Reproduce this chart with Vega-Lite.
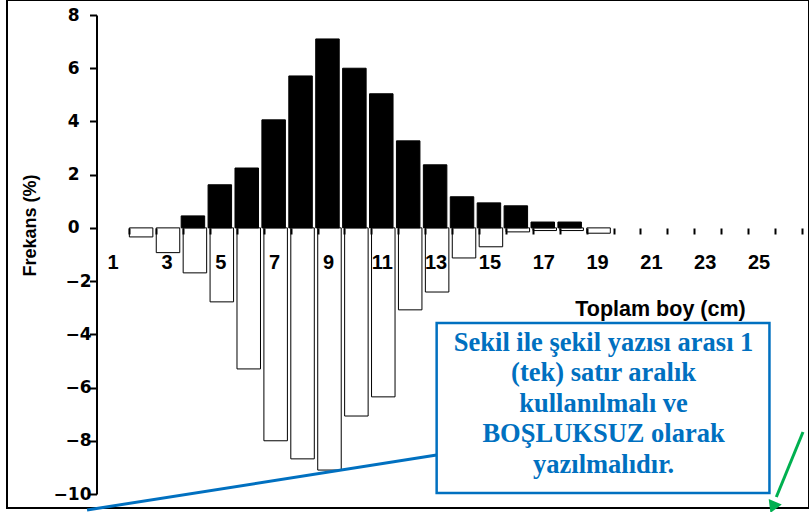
{
  "$schema": "https://vega.github.io/schema/vega-lite/v6.json",
  "width": 802,
  "height": 508,
  "autosize": {"type": "none"},
  "padding": {"left": 7, "top": 0, "right": 0, "bottom": 4},
  "background": "white",
  "config": {"view": {"stroke": "black", "strokeWidth": 2}, "font": "Liberation Sans"},
  "resolve": {"axis": {"x": "independent", "y": "independent"}},
  "data": {"values": [
    {"boy": 4, "sex": "dişi", "freq": 0.45},
    {"boy": 5, "sex": "dişi", "freq": 1.62},
    {"boy": 6, "sex": "dişi", "freq": 2.25},
    {"boy": 7, "sex": "dişi", "freq": 4.06},
    {"boy": 8, "sex": "dişi", "freq": 5.71},
    {"boy": 9, "sex": "dişi", "freq": 7.1},
    {"boy": 10, "sex": "dişi", "freq": 6.0},
    {"boy": 11, "sex": "dişi", "freq": 5.04},
    {"boy": 12, "sex": "dişi", "freq": 3.27},
    {"boy": 13, "sex": "dişi", "freq": 2.37},
    {"boy": 14, "sex": "dişi", "freq": 1.17},
    {"boy": 15, "sex": "dişi", "freq": 0.94},
    {"boy": 16, "sex": "dişi", "freq": 0.83},
    {"boy": 17, "sex": "dişi", "freq": 0.22},
    {"boy": 18, "sex": "dişi", "freq": 0.22},
    {"boy": 2, "sex": "erkek", "freq": -0.34},
    {"boy": 3, "sex": "erkek", "freq": -0.93},
    {"boy": 4, "sex": "erkek", "freq": -1.69},
    {"boy": 5, "sex": "erkek", "freq": -2.78},
    {"boy": 6, "sex": "erkek", "freq": -5.3},
    {"boy": 7, "sex": "erkek", "freq": -8.0},
    {"boy": 8, "sex": "erkek", "freq": -8.68},
    {"boy": 9, "sex": "erkek", "freq": -9.1},
    {"boy": 10, "sex": "erkek", "freq": -7.07},
    {"boy": 11, "sex": "erkek", "freq": -6.35},
    {"boy": 12, "sex": "erkek", "freq": -3.08},
    {"boy": 13, "sex": "erkek", "freq": -2.41},
    {"boy": 14, "sex": "erkek", "freq": -1.13},
    {"boy": 15, "sex": "erkek", "freq": -0.71},
    {"boy": 16, "sex": "erkek", "freq": -0.15},
    {"boy": 17, "sex": "erkek", "freq": -0.1},
    {"boy": 18, "sex": "erkek", "freq": -0.1},
    {"boy": 19, "sex": "erkek", "freq": -0.2}
  ]},
  "layer": [
    {
      "transform": [{"filter": "datum.sex === 'erkek'"}],
      "mark": {"type": "bar", "orient": "vertical", "width": 23.5, "stroke": "black", "strokeWidth": 1, "xOffset": -1.5},
      "encoding": {
        "x": {"field": "boy", "type": "quantitative", "scale": {"domain": [-2.853, 26.578], "nice": false, "zero": false}, "axis": null},
        "y": {"field": "freq", "type": "quantitative", "stack": null, "scale": {"domain": [-10, 8], "range": [494, 15], "nice": false, "zero": false}, "axis": null},
        "color": {"field": "sex", "type": "nominal", "scale": {"domain": ["dişi", "erkek"], "range": ["black", "white"]}, "legend": null}
      }
    },
    {
      "transform": [{"filter": "datum.sex === 'dişi'"}],
      "mark": {"type": "bar", "orient": "vertical", "width": 23.5, "stroke": "black", "strokeWidth": 1, "xOffset": -3.5},
      "encoding": {
        "x": {"field": "boy", "type": "quantitative",
          "scale": {"domain": [-2.853, 26.578], "nice": false, "zero": false},
          "axis": {
            "orient": "bottom", "offset": -280, "domain": false, "grid": false, "zindex": 1,
            "values": [1, 1.5, 2.5, 3, 3.5, 4.5, 5, 5.5, 6.5, 7, 7.5, 8.5, 9, 9.5, 10.5, 11, 11.5, 12.5, 13, 13.5, 14.5, 15, 15.5, 16.5, 17, 17.5, 18.5, 19, 19.5, 20.5, 21, 21.5, 22.5, 23, 23.5, 24.5, 25, 25.5, 26.5],
            "labelExpr": "datum.value % 2 === 1 ? format(datum.value, 'd') : ''",
            "tickOpacity": {"condition": {"test": "datum.value % 1 === 0", "value": 0}, "value": 1},
            "tickColor": "black", "tickWidth": 2, "tickSize": 6,
            "labelFont": "Liberation Sans", "labelFontSize": 20, "labelFontWeight": "bold", "labelColor": "black",
            "labelPadding": 18.5, "labelOffset": -3, "labelOverlap": false, "labelFlush": false, "labelBound": false,
            "title": "Toplam boy (cm)", "titleFont": "Liberation Sans", "titleFontSize": 21.5, "titleFontWeight": "bold", "titleColor": "black",
            "titleX": 653, "titleY": 87, "titleBaseline": "alphabetic", "titleAlign": "center"
          }
        },
        "y": {"field": "freq", "type": "quantitative", "stack": null,
          "scale": {"domain": [-10, 8], "range": [494, 15], "nice": false, "zero": false},
          "axis": {
            "orient": "left", "offset": -89.5, "domain": true, "domainColor": "black", "domainWidth": 2, "grid": false,
            "values": [-10, -8, -6, -4, -2, 0, 2, 4, 6, 8],
            "format": "d",
            "tickColor": "black", "tickWidth": 2, "tickSize": 7,
            "labelFont": "DejaVu Sans", "labelFontSize": 17, "labelFontWeight": "bold", "labelColor": "black",
            "labelPadding": {"condition": {"test": "datum.value < 0", "value": -1.5}, "value": 10.5},
            "title": "Frekans (%)", "titleFont": "Liberation Sans", "titleFontSize": 18, "titleFontWeight": "bold", "titleColor": "black",
            "titleAngle": -90, "titleX": -61.5, "titleY": 225, "titleAlign": "center", "titleBaseline": "alphabetic"
          }
        },
        "color": {"field": "sex", "type": "nominal",
          "scale": {"domain": ["dişi", "erkek"], "range": ["black", "white"]},
          "legend": {
            "orient": "none", "legendX": 123.5, "legendY": 31.7, "title": null, "direction": "vertical",
            "symbolType": "square", "symbolSize": 156, "symbolStrokeColor": "black", "symbolStrokeWidth": 1.2,
            "labelFont": "Liberation Sans", "labelFontSize": 20, "labelFontWeight": "bold", "labelColor": "black",
            "labelOffset": 10, "rowPadding": 22, "padding": 0
          }
        }
      }
    },
    {
      "data": {"values": [{}]},
      "mark": {"type": "rule", "color": "#0070C0", "strokeWidth": 3},
      "encoding": {
        "x": {"datum": 12.927, "type": "quantitative", "scale": {"domain": [-2.853, 26.578], "nice": false, "zero": false}, "axis": null},
        "y": {"datum": -8.534, "type": "quantitative", "scale": {"domain": [-10, 8], "range": [494, 15], "nice": false, "zero": false}, "axis": null},
        "x2": {"datum": -0.064},
        "y2": {"datum": -10.6}
      }
    },
    {
      "data": {"values": [{}]},
      "mark": {"type": "rect", "fill": "white", "stroke": "#0070C0", "strokeWidth": 2.5},
      "encoding": {
        "x": {"datum": 12.927, "type": "quantitative", "scale": {"domain": [-2.853, 26.578], "nice": false, "zero": false}, "axis": null},
        "y": {"datum": -3.571, "type": "quantitative", "scale": {"domain": [-10, 8], "range": [494, 15], "nice": false, "zero": false}, "axis": null},
        "x2": {"datum": 25.294},
        "y2": {"datum": -9.962}
      }
    },
    {
      "data": {"values": [{}]},
      "mark": {"type": "text", "font": "Liberation Serif", "fontSize": 26.5, "fontWeight": "bold", "color": "#0070C0", "align": "center", "baseline": "alphabetic", "lineHeight": 30.5},
      "encoding": {
        "x": {"datum": 19.13, "type": "quantitative", "scale": {"domain": [-2.853, 26.578], "nice": false, "zero": false}, "axis": null},
        "y": {"datum": -4.624, "type": "quantitative", "scale": {"domain": [-10, 8], "range": [494, 15], "nice": false, "zero": false}, "axis": null},
        "text": {"value": ["Sekil ile şekil yazısı arası 1", "(tek) satır aralık", "kullanılmalı ve", "BOŞLUKSUZ olarak", "yazılmalıdır."]}
      }
    },
    {
      "data": {"values": [{}]},
      "mark": {"type": "rule", "color": "#00B050", "strokeWidth": 3},
      "encoding": {
        "x": {"datum": 26.541, "type": "quantitative", "scale": {"domain": [-2.853, 26.578], "nice": false, "zero": false}, "axis": null},
        "y": {"datum": -7.669, "type": "quantitative", "scale": {"domain": [-10, 8], "range": [494, 15], "nice": false, "zero": false}, "axis": null},
        "x2": {"datum": 25.55},
        "y2": {"datum": -10.113}
      }
    },
    {
      "data": {"values": [{}]},
      "mark": {"type": "point", "shape": "triangle-down", "filled": true, "color": "#00B050", "size": 200, "angle": 23, "opacity": 1},
      "encoding": {
        "x": {"datum": 25.42, "type": "quantitative", "scale": {"domain": [-2.853, 26.578], "nice": false, "zero": false}, "axis": null},
        "y": {"datum": -10.5, "type": "quantitative", "scale": {"domain": [-10, 8], "range": [494, 15], "nice": false, "zero": false}, "axis": null}
      }
    }
  ]
}
